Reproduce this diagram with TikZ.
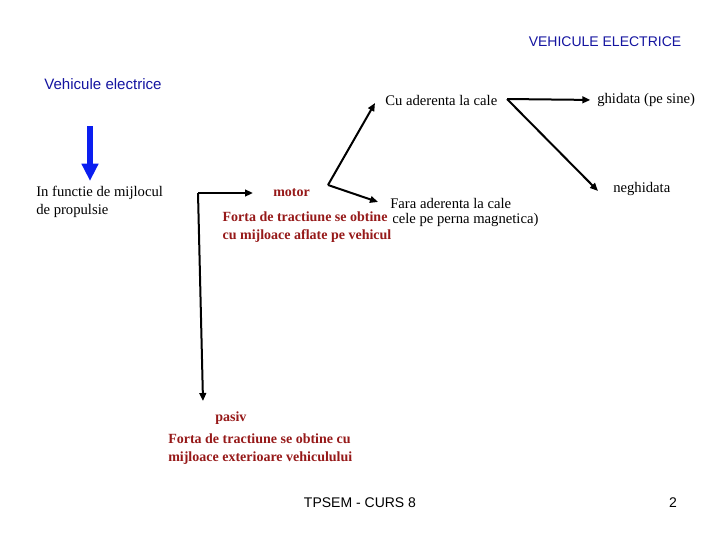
\documentclass[tikz,border=0pt]{standalone}
\usepackage{fontspec}
\setmainfont{Liberation Serif}
\setsansfont{Liberation Sans}
\usetikzlibrary{arrows.meta}
\definecolor{navy}{RGB}{20,20,160}
\definecolor{brightblue}{RGB}{10,30,240}
\definecolor{darkred}{RGB}{150,25,25}
\tikzset{
  blk/.style={font=\fontsize{11}{13.5}\selectfont, inner sep=0pt, anchor=west, align=left},
  red/.style={font=\fontsize{10.5}{13.3}\selectfont\bfseries, text=darkred, inner sep=0pt, anchor=west, align=left},
  sans/.style={font=\sffamily\fontsize{10.5}{12}\selectfont, inner sep=0pt},
  conn/.style={line width=1.5pt, -{Triangle[length=6pt,width=5pt]}},
  plain/.style={line width=1.5pt}
}
\begin{document}
\begin{tikzpicture}[x=0.75pt,y=-0.75pt]
\useasboundingbox (0,0) rectangle (720,540);
% titles
\node[sans, text=navy] (title) at (605,42) {VEHICULE ELECTRICE};
\node[sans, text=navy, font=\sffamily\fontsize{11.3}{12}\selectfont] (ve) at (103,84) {Vehicule electrice};
% blue arrow
\coordinate (ba1) at (90,126);
\coordinate (ba2) at (90,181);
\draw[brightblue, line width=4.5pt, -{Triangle[length=13pt,width=12pt]}] (ba1) -- (ba2);
\node[blk] (prop) at (36,202) {In functie de mijlocul\\de propulsie};
% bracket
\coordinate (bk) at (198,193);
\coordinate (bkb) at (203,401);
\node[red] (motor) at (273,193) {motor};
\draw[conn, shorten >=15pt] (bk) -- (motor.west);
\draw[conn] (bk) -- (bkb);
% motor branches
\coordinate (mv) at (328,185);
\node[blk] (cu) at (385,100) {Cu aderenta la cale};
\node[blk] (fara) at (390,203) {Fara aderenta la cale};
\node[blk] (perna) at (392,220) {cele pe perna magnetica)};
\draw[conn] (mv) -- (375,103) coordinate (cutip);
\draw[conn] (mv) -- (378,202) coordinate (faratip);
\node[red, fill=white, inner sep=1pt] (fv) at (221,227) {Forta de tractiune se obtine\\cu mijloace aflate pe vehicul};
% Cu aderenta branches
\coordinate (cv) at (507,99);
\node[blk] (ghid) at (597,100) {ghidata (pe sine)};
\node[blk] (neghid) at (613,189) {neghidata};
\draw[conn, shorten >=5pt] (cv) -- (ghid.west);
\draw[conn] (cv) -- (598,191);
% pasiv
\node[red] (pasiv) at (215,418) {pasiv};
\node[red] (fe) at (168,449) {Forta de tractiune se obtine cu\\mijloace exterioare vehiculului};
% footer
\node[sans] (foot) at (360,503) {TPSEM - CURS 8};
\node[sans] (pg) at (673,503) {2};
\end{tikzpicture}
\end{document}
